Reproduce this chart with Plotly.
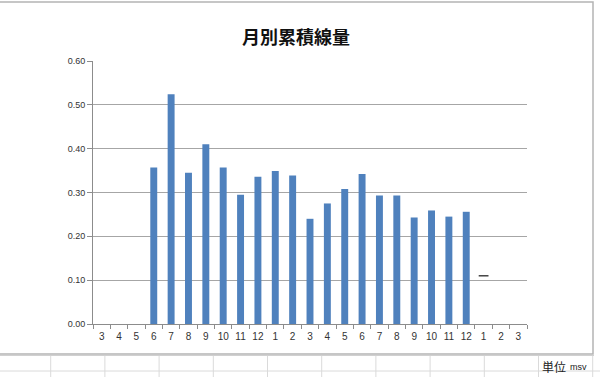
import plotly.graph_objects as go

# ---- data ----
months = ["3", "4", "5", "6", "7", "8", "9", "10", "11", "12", "1", "2",
          "3", "4", "5", "6", "7", "8", "9", "10", "11", "12", "1", "2", "3"]
dose = [None, None, None, 0.357, 0.524, 0.345, 0.410, 0.357, 0.295, 0.336, 0.349, 0.339,
        0.240, 0.275, 0.308, 0.342, 0.293, 0.293, 0.243, 0.259, 0.245, 0.256, None, None, None]
mark_index = [22]
mark_value = [0.11]
y_ticks = [0.0, 0.1, 0.2, 0.3, 0.4, 0.5, 0.6]

x = list(range(len(months)))

# ---- pixel helpers for decoration (layout only) ----
L, R, T, B = 93, 527, 61, 324
def px(v):
    return (v - L) / (R - L)
def py(v):
    return (B - v) / (B - T)

fig = go.Figure()
fig.add_trace(go.Bar(x=x, y=dose, width=0.4, marker=dict(color="#4F81BD", line_width=0),
                     hoverinfo="y"))
fig.add_trace(go.Scatter(x=mark_index, y=mark_value, mode="markers",
                         marker=dict(symbol="line-ew", size=7, line=dict(width=1.5, color="#444444")),
                         hoverinfo="y"))

shapes = []
# chart frame
shapes.append(dict(type="rect", xref="paper", yref="paper", x0=px(-2), x1=px(593),
                   y0=py(354), y1=py(2), fillcolor="white",
                   line=dict(color="#b4b4b4", width=1.5), layer="below"))
# spreadsheet grid below frame
for gx in [50.7, 104.9, 159.1, 213.3, 267.5, 321.7, 375.9, 430.1, 484.3, 538.5, 592.7]:
    shapes.append(dict(type="line", xref="paper", yref="paper", x0=px(gx), x1=px(gx),
                       y0=py(356), y1=py(377), line=dict(color="#dadada", width=1)))
shapes.append(dict(type="line", xref="paper", yref="paper", x0=px(0), x1=px(600),
                   y0=py(371), y1=py(371), line=dict(color="#dadada", width=1)))
shapes.append(dict(type="line", xref="paper", yref="paper", x0=px(0), x1=px(594),
                   y0=py(355.5), y1=py(355.5), line=dict(color="#d0d0d0", width=1)))

fig.update_layout(
    width=600, height=377,
    margin=dict(l=L, r=600 - R, t=T, b=377 - B),
    paper_bgcolor="white", plot_bgcolor="rgba(0,0,0,0)",
    showlegend=False,
    bargap=0.6,
    shapes=shapes,
    title=dict(text="<b>月別累積線量</b>", x=296 / 600, xanchor="center",
               y=1 - 38 / 377, yanchor="middle",
               font=dict(family="Noto Sans CJK JP", size=18, color="#111111")),
    annotations=[
        dict(text="単位", xref="paper", yref="paper", x=px(540), y=py(366), xanchor="left",
             yanchor="middle", showarrow=False,
             font=dict(family="Noto Sans CJK JP", size=12, color="#222222")),
        dict(text="msv", xref="paper", yref="paper", x=px(568), y=py(367), xanchor="left",
             yanchor="middle", showarrow=False,
             font=dict(family="Liberation Sans", size=9, color="#222222")),
    ],
    xaxis=dict(
        range=[-0.5, len(months) - 0.5],
        tickmode="array", tickvals=x, ticktext=months,
        ticks="", showgrid=False, zeroline=False,
        showline=True, linecolor="#8c8c8c", linewidth=1,
        ticklabelstandoff=3,
        tickfont=dict(family="Liberation Sans", size=10, color="#333333"),
        minor=dict(tickmode="array", tickvals=[i - 0.5 for i in range(len(months) + 1)],
                   ticks="outside", ticklen=4, tickcolor="#8c8c8c", tickwidth=1, showgrid=False),
        fixedrange=True,
    ),
    yaxis=dict(
        range=[0, 0.6], tickmode="array", tickvals=y_ticks,
        ticktext=[f"{v:.2f}" for v in y_ticks],
        ticks="outside", ticklen=5, tickcolor="#8c8c8c",
        showgrid=True, gridcolor="#a6a6a6", gridwidth=1,
        zeroline=False, showline=True, linecolor="#8c8c8c", linewidth=1,
        tickfont=dict(family="Liberation Sans", size=9, color="#333333"),
        fixedrange=True,
    ),
)

fig.write_html("out.html")
